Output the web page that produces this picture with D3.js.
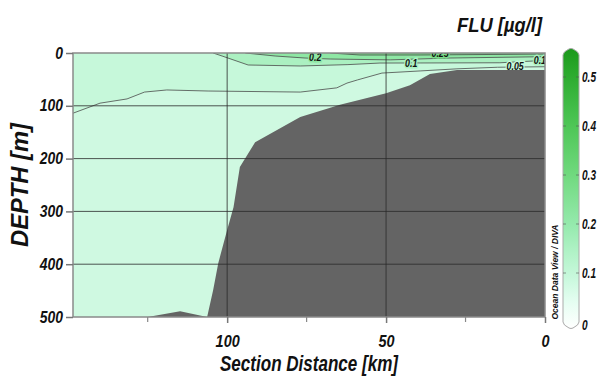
<!DOCTYPE html>
<html>
<head>
<meta charset="utf-8">
<script src="https://cdn.jsdelivr.net/npm/d3@7.9.0/dist/d3.min.js"></script>
<style>
  body { margin: 0; background: #fff; }
  text { font-family: "Liberation Sans", Arial, sans-serif; font-weight: bold; font-style: italic; fill: #111; }
</style>
</head>
<body>
<svg id="chart" width="602" height="383"></svg>
<script>
// axis ticks
const depthTicks = [0, 100, 200, 300, 400, 500];
const distTicks = [100, 50, 0];
const distMinorTicks = [125, 75, 25];
const cbTicks = [0, 0.1, 0.2, 0.3, 0.4, 0.5];

// colour bar (value -> colour)
const cbStops = [0, 0.05, 0.1, 0.15, 0.2, 0.3, 0.4, 0.5, 0.55];
const cbColors = ['#ffffff', '#e6fef2', '#c8f8dc', '#b0f2c6', '#96eaae', '#70d97e', '#4cc554', '#2aa92c', '#1b981b'];

// bottom profile [km, depth m]
const bathymetry = [[148.5, 500], [125, 500], [114.8, 489], [106.3, 500], [104.4, 449], [102.8, 398],
  [100, 335], [98, 292], [96, 216], [91.2, 169], [77, 121], [64.5, 98], [50, 76], [42.5, 61],
  [36.2, 40], [27.7, 32], [0, 32]];

// contour lines [km, depth m]
const contour005 = [[148.5, 114], [140, 95], [131.5, 87], [126, 74], [119, 70], [106, 72], [77, 74],
  [65.5, 66], [62.3, 57], [59, 51], [51.3, 38], [39.3, 34], [27.7, 30], [15, 27], [0, 26]];
const contour01 = [[104.4, 0], [101.6, 5.7], [93.4, 22.7], [77, 24.6], [62, 22], [51.9, 19],
  [39.3, 18.9], [14.2, 18.5], [0, 14]];
const contour02 = [[94.3, 0], [84.9, 5.7], [75.5, 9.5], [67.6, 11.4], [48.7, 13], [29.9, 9.5], [0, 7]];
const contour025 = [[67.6, 0], [58.2, 3.8], [39.3, 3.8], [0, 2]];

const contours = [contour005, contour01, contour02, contour025];
const bandValues = [0.088, 0.104, 0.16, 0.22, 0.28]; // below first line, then above each line

const labelText = ['0.05', '0.1', '0.1', '0.2', '0.25'];
const labelKm = [9.4, 42.1, 1.6, 72.3, 33];
const labelDepth = [25.5, 18.5, 13, 8, -0.5];
const labelBand = [1, 2, 2, 3, 4];

const svg = d3.select('#chart');

const x = d3.scaleLinear().domain([148.5, 0]).range([73, 545]);
const y = d3.scaleLinear().domain([0, 500]).range([53, 317]);
const color = d3.scaleLinear().domain(cbStops).range(cbColors);

function squish(sel, k) {
  sel.each(function () {
    const w = this.getComputedTextLength();
    d3.select(this).attr('textLength', w * k).attr('lengthAdjust', 'spacingAndGlyphs');
  });
}

svg.append('clipPath').attr('id', 'plotClip')
  .append('rect').attr('x', 73).attr('y', 53).attr('width', 472).attr('height', 264);

const plot = svg.append('g').attr('clip-path', 'url(#plotClip)');

plot.append('rect')
  .attr('x', 73).attr('y', 53).attr('width', 472).attr('height', 264)
  .attr('fill', color(bandValues[0]));

const line = d3.line().x((d) => x(d[0])).y((d) => y(d[1]));

contours.forEach((pts, i) => {
  let poly = [[pts[0][0], -10], ...pts, [pts[pts.length - 1][0], -10]];
  if (pts[0][1] > 0) poly = [[150, -10], [150, pts[0][1]], ...pts, [pts[pts.length - 1][0], -10]];
  plot.append('path')
    .attr('d', line(poly) + 'Z')
    .attr('fill', color(bandValues[i + 1]));
});

contours.forEach((pts) => {
  plot.append('path')
    .attr('d', line(pts))
    .attr('fill', 'none')
    .attr('stroke', '#4a4a4a')
    .attr('stroke-width', 0.8);
});

labelText.forEach((t, i) => {
  plot.append('text')
    .attr('x', x(labelKm[i]))
    .attr('y', y(labelDepth[i]))
    .attr('dy', '0.35em')
    .attr('text-anchor', 'middle')
    .attr('font-size', 11)
    .attr('stroke', color(bandValues[labelBand[i]]))
    .attr('stroke-width', 3)
    .attr('paint-order', 'stroke')
    .text(t)
    .call(squish, 0.8);
});

plot.append('path')
  .attr('d', line([...bathymetry, [0, 520], [148.5, 520]]) + 'Z')
  .attr('fill', '#646464');

// grid
plot.selectAll('.hgrid').data(depthTicks.slice(1, -1)).join('line')
  .attr('x1', 73).attr('x2', 545)
  .attr('y1', (d) => y(d)).attr('y2', (d) => y(d))
  .attr('stroke', '#2a2a2a').attr('stroke-opacity', 0.8).attr('stroke-width', 1);
plot.selectAll('.vgrid').data([100, 50]).join('line')
  .attr('x1', (d) => x(d)).attr('x2', (d) => x(d))
  .attr('y1', 53).attr('y2', 317)
  .attr('stroke', '#2a2a2a').attr('stroke-opacity', 0.8).attr('stroke-width', 1);

// frame
svg.append('rect')
  .attr('x', 73).attr('y', 53).attr('width', 472).attr('height', 264)
  .attr('fill', 'none').attr('stroke', '#8a8a8a').attr('stroke-width', 1.5);

// y axis
const yAxis = svg.append('g').attr('transform', 'translate(73,0)')
  .call(d3.axisLeft(y).tickValues(depthTicks).tickSize(7).tickPadding(3));
yAxis.select('.domain').remove();
yAxis.selectAll('.tick line').attr('stroke', '#777').attr('stroke-width', 1.5);
yAxis.selectAll('.tick text').attr('font-size', 16).attr('fill', '#111')
  .attr('font-family', null).call(squish, 0.87);

// x axis
const xAxis = svg.append('g').attr('transform', 'translate(0,317)')
  .call(d3.axisBottom(x).tickValues(distTicks).tickSize(6).tickPadding(12));
xAxis.select('.domain').remove();
xAxis.selectAll('.tick line').attr('stroke', '#777').attr('stroke-width', 1.5);
xAxis.selectAll('.tick text').attr('font-size', 17).attr('fill', '#111')
  .attr('font-family', null).call(squish, 0.85);
svg.append('g').selectAll('line').data(distMinorTicks).join('line')
  .attr('x1', (d) => x(d)).attr('x2', (d) => x(d))
  .attr('y1', 317).attr('y2', 322)
  .attr('stroke', '#888').attr('stroke-width', 1.2);

// titles
svg.append('text').attr('x', 457).attr('y', 32).attr('font-size', 21)
  .attr('textLength', 85).attr('lengthAdjust', 'spacingAndGlyphs')
  .text('FLU [µg/l]');
svg.append('text').attr('transform', 'translate(28,185) rotate(-90)')
  .attr('text-anchor', 'middle').attr('font-size', 23)
  .attr('textLength', 124).attr('lengthAdjust', 'spacingAndGlyphs')
  .text('DEPTH [m]');
svg.append('text').attr('x', 309).attr('y', 371).attr('text-anchor', 'middle').attr('font-size', 22)
  .attr('textLength', 178).attr('lengthAdjust', 'spacingAndGlyphs')
  .text('Section Distance [km]');
svg.append('text').attr('transform', 'translate(558,272) rotate(-90)')
  .attr('text-anchor', 'middle').attr('font-size', 8.5).attr('fill', '#333')
  .attr('textLength', 95).attr('lengthAdjust', 'spacingAndGlyphs')
  .text('Ocean Data View / DIVA');

// colour bar
const cbY = d3.scaleLinear().domain([0, 0.5]).range([322, 77]);
const cbX0 = 563, cbX1 = 579, cbMax = 0.545;
const grad = svg.append('defs').append('linearGradient')
  .attr('id', 'cbGrad').attr('x1', 0).attr('x2', 0).attr('y1', 1).attr('y2', 0);
grad.selectAll('stop').data(cbStops).join('stop')
  .attr('offset', (d) => d / cbMax > 1 ? 1 : d / cbMax)
  .attr('stop-color', (d) => color(d));

const cbTop = cbY(cbMax), cbBot = cbY(0);
const mid = (cbX0 + cbX1) / 2;
svg.append('path')
  .attr('d', `M${cbX0},${cbBot} L${cbX0},${cbTop} Q${cbX0},${cbTop - 3} ${mid - 2},${cbTop - 6} Q${mid},${cbTop - 7} ${mid + 2},${cbTop - 6}` +
    ` Q${cbX1},${cbTop - 3} ${cbX1},${cbTop} L${cbX1},${cbBot} Q${cbX1},${cbBot + 3} ${mid + 2},${cbBot + 6}` +
    ` Q${mid},${cbBot + 7} ${mid - 2},${cbBot + 6} Q${cbX0},${cbBot + 3} ${cbX0},${cbBot}Z`)
  .attr('fill', 'url(#cbGrad)')
  .attr('stroke', '#aaa').attr('stroke-width', 1);

svg.append('g').selectAll('line').data(cbTicks.slice(1)).join('line')
  .attr('x1', cbX0).attr('x2', cbX0 + 3)
  .attr('y1', (d) => cbY(d)).attr('y2', (d) => cbY(d))
  .attr('stroke', '#555').attr('stroke-opacity', 0.6);
svg.append('g').selectAll('line').data(cbTicks.slice(1)).join('line')
  .attr('x1', cbX1 - 3).attr('x2', cbX1)
  .attr('y1', (d) => cbY(d)).attr('y2', (d) => cbY(d))
  .attr('stroke', '#555').attr('stroke-opacity', 0.6);

svg.append('g').selectAll('text').data(cbTicks).join('text')
  .attr('x', 582)
  .attr('y', (d) => cbY(d))
  .attr('dy', (d) => d === 0 ? '0.6em' : '0.35em')
  .attr('font-size', 14)
  .text((d) => d === 0 ? '0' : d3.format('.1f')(d))
  .call(squish, 0.72);
</script>
</body>
</html>
